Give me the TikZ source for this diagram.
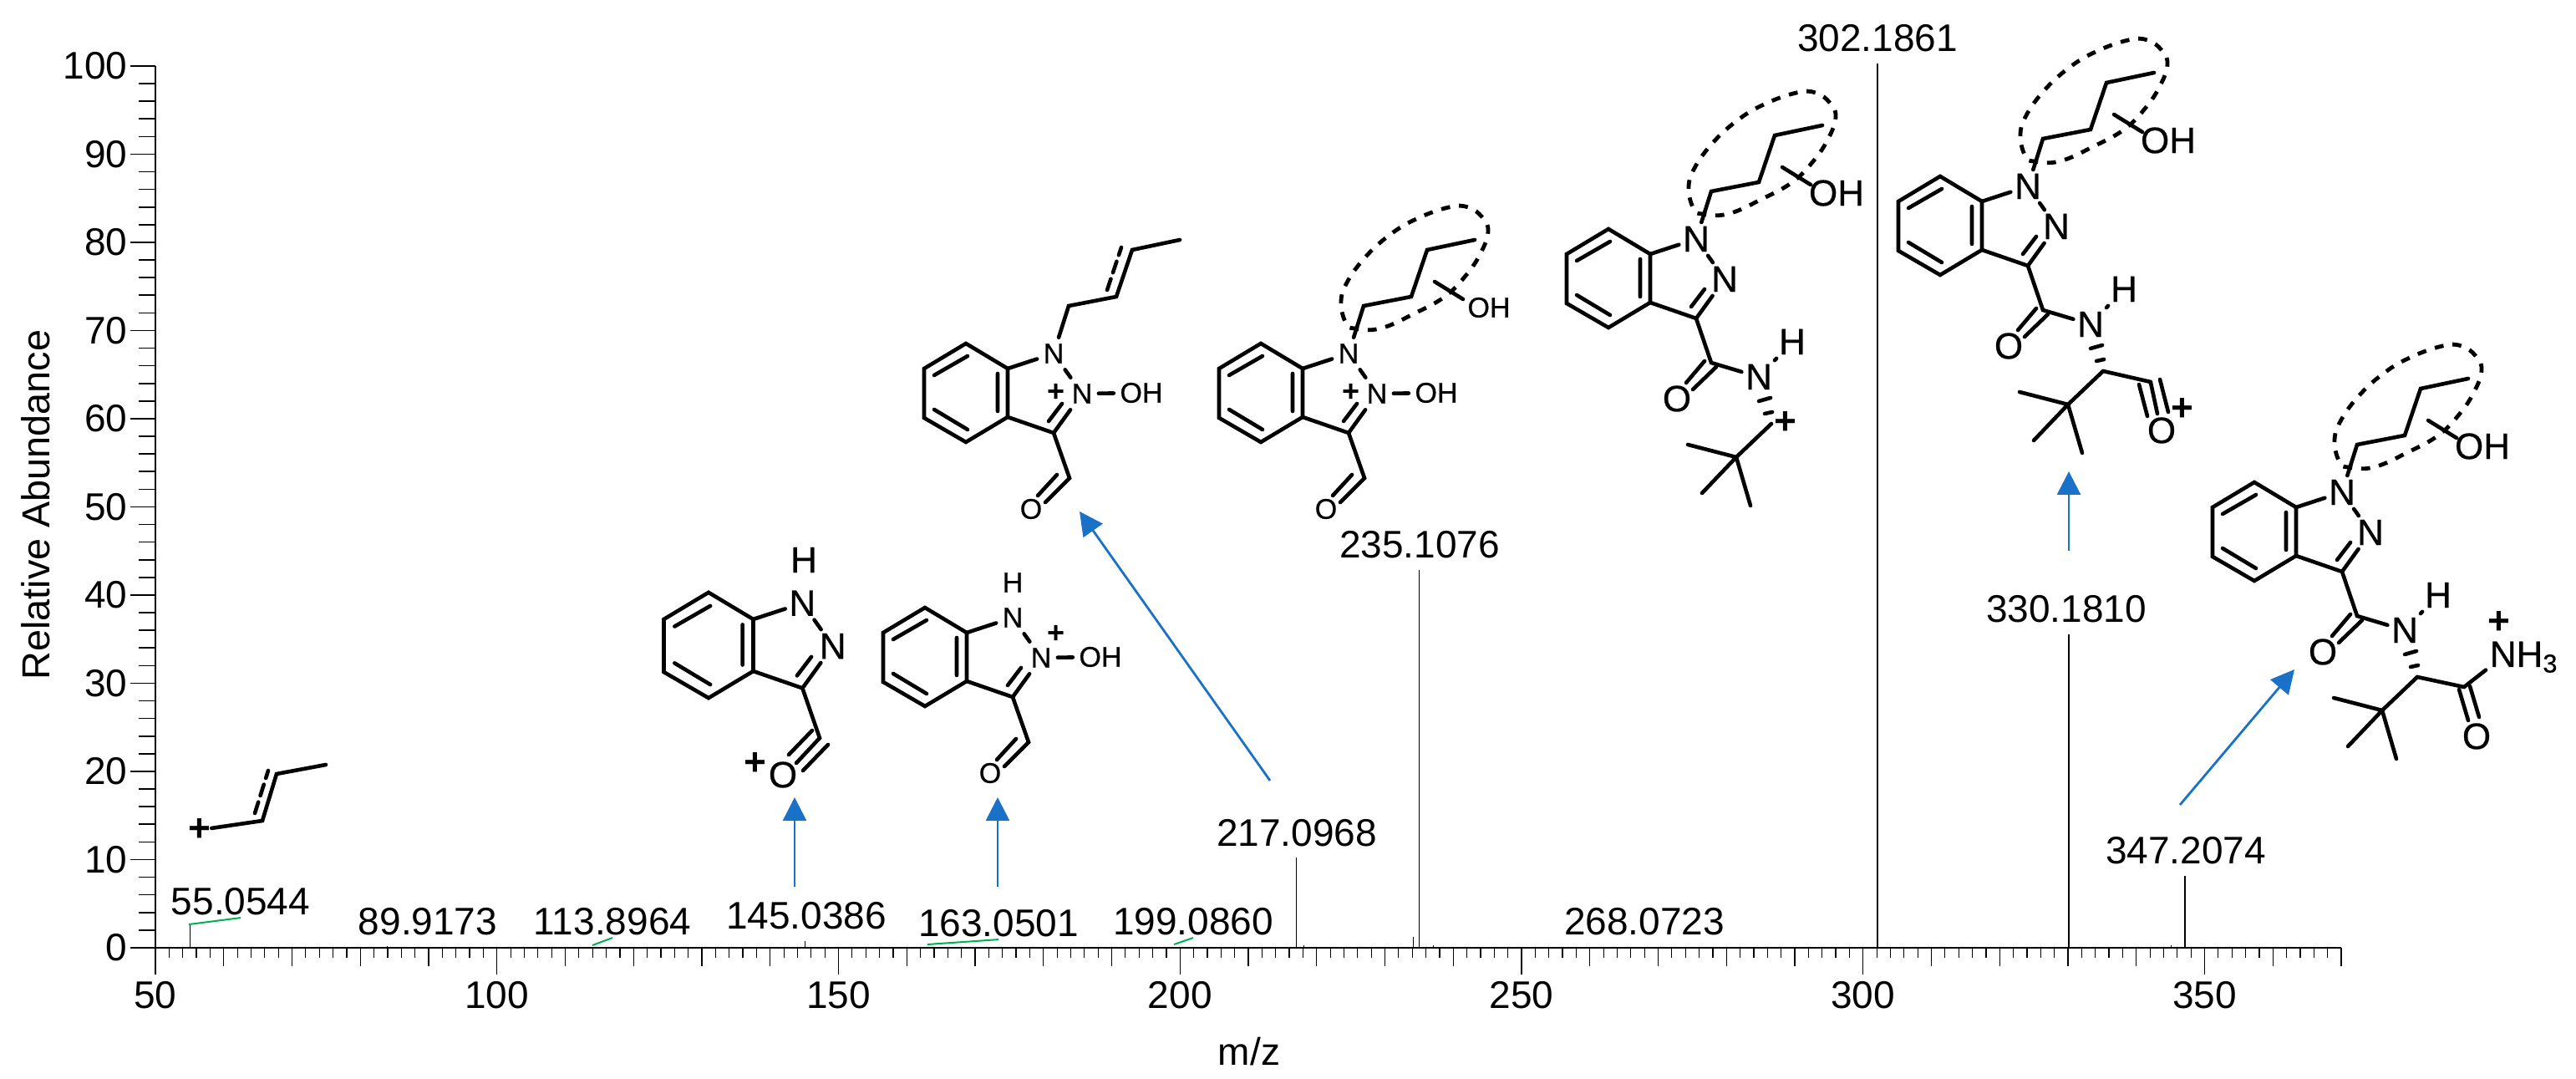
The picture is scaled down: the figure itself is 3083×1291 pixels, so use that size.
\documentclass[tikz,border=0pt]{standalone}
\usepackage{fontspec}
\setmainfont{Liberation Sans}
\newfontfamily\atomfam[FakeBold=0.5]{Liberation Sans}
\usetikzlibrary{arrows.meta}
\definecolor{fragblue}{HTML}{1A72C8}
\definecolor{leadgreen}{HTML}{00B050}
\tikzset{
  axisline/.style={line width=0.4pt},
  ticklabel/.style={font=\fontsize{11.5}{14}\selectfont,inner sep=0.5pt},
  peak/.style={line width=0.3pt},
  leader/.style={leadgreen,line width=0.5pt},
  fragarrow/.style={fragblue,line width=0.7pt,-{Triangle[length=7pt,width=7pt]}},
  bond/.style={line width=1.15pt,line cap=round},
  smallatoms/.style={
    atom/.style={font=\fontsize{8.5}{10}\atomfam,inner sep=1.7pt},
    charge/.style={font=\fontsize{9}{10}\selectfont\bfseries,inner sep=0pt}},
  bigatoms/.style={
    atom/.style={font=\fontsize{11}{13}\atomfam,inner sep=1pt},
    charge/.style={font=\fontsize{11.5}{13}\selectfont\bfseries,inner sep=0pt}},
  indazole/.pic={
    \coordinate (top) at (0,-59);
    \coordinate (UR) at (50,-29);
    \coordinate (LR) at (50,29);
    \coordinate (bottom) at (0,59);
    \coordinate (LL) at (-50,30);
    \coordinate (UL) at (-50,-29);
    \coordinate (C3) at (105,48);
    \node[atom] (N1) at (105,-47) {N};
    \node[atom] (N2) at (139,1) {N};
    \draw[bond] (UL) -- (top) -- (UR) -- (LR) -- (bottom) -- (LL) -- cycle;
    \draw[bond] (-38,-21) -- (2,-44) (38,-23) -- (38,22) (-38,20) -- (2,44);
    \draw[bond] (UR) -- (N1);
    \draw[bond] (N1) -- (N2);
    \draw[bond] (LR) -- (C3) -- (N2);
    \draw[bond] (99,34) -- (115,13);
  },
  nhydroxy/.pic={
    \node[atom] (OH) at (210,0) {OH};
    \draw[bond] (N2) -- (OH);
  },
  formyl/.pic={
    \coordinate (CHO) at (124,102);
    \node[atom] (O) at (78,139) {O};
    \draw[bond] (C3) -- (CHO) -- (95,131);
    \draw[bond] (109,98) -- (86,123);
  },
  acylium/.pic={
    \coordinate (CHO) at (133,111);
    \node[atom] (O) at (89,155) {O};
    \node[charge] (plus) at (56,142) {+};
    \draw[bond] (C3) -- (CHO) -- (105,141);
    \draw[bond] (96,131) -- (124,102) (113,150) -- (143,119);
  },
  chain/.pic={
    \coordinate (c1) at (123,-104);
    \coordinate (c2) at (180,-115);
    \coordinate (c3) at (199,-171);
    \coordinate (c4) at (256,-183);
    \draw[bond] (N1) -- (c1) -- (c2) -- (c3) -- (c4);
  },
  pentol/.pic={
    \node[atom] (OH2) at (273,-102) {OH};
    \draw[bond] (208,-133) -- (242,-112);
    \draw[line width=1.2pt,dash pattern=on 2.7pt off 2.7pt] plot[smooth cycle,tension=0.7] coordinates {
      (102,-83) (96,-107) (102,-130) (123,-160) (153,-188) (186,-208) (225,-222) (248,-222)
      (265,-210) (272,-193) (263,-167) (245,-140) (220,-115) (184,-95) (143,-77) (112,-77)};
  },
  carboxamide/.pic={
    \coordinate (am) at (123,101);
    \coordinate (CH) at (195,174);
    \coordinate (tBu) at (153,214);
    \coordinate (me1) at (95,199);
    \coordinate (me2) at (112,257);
    \coordinate (me3) at (170,272);
    \node[atom] (O) at (82,144) {O};
    \node[atom] (NH) at (180,118) {N};
    \node[atom] (H) at (220,76) {H};
    \draw[bond] (C3) -- (am) -- (NH);
    \draw[bond] (129,106) -- (101,133) (115,99) -- (93,125);
    \draw[bond] (NH) -- (H);
    \draw[bond] (180,147) -- (194,143) (187,162) -- (196,160);
    \draw[bond] (CH) -- (tBu) -- (me1) (tBu) -- (me2) (tBu) -- (me3);
  },
  oxonium/.pic={
    \coordinate (CO) at (252,187);
    \node[atom] (O2) at (265,245) {O};
    \node[charge] (plus) at (290,220) {+};
    \draw[bond] (CH) -- (CO);
    \draw[bond] (238,190) -- (248,228) (252,188) -- (260,225) (263,184) -- (273,223);
  },
  primamide/.pic={
    \coordinate (CO) at (251,186);
    \node[atom] (O2) at (266,245) {O};
    \node[atom,anchor=base west] (NH3) at (277,162) {NH\textsubscript{3}};
    \node[charge] (plus) at (293,109) {+};
    \draw[bond] (CH) -- (CO) -- ([shift={(0,-8)}]NH3.south west);
    \draw[bond] (245,189) -- (256,226) (258,185) -- (269,222);
  }
}
\begin{document}
\begin{tikzpicture}[x=0.25pt,y=-0.25pt]
  \useasboundingbox (0,0) rectangle (3083,1291);
  % axes
  \draw[axisline] (186,79) -- (186,1134);
  \draw[line width=0.5pt] (186,1134) -- (2802,1134);
  \foreach \v in {0,2,...,100}
    \draw[axisline] (186,{1134-10.55*\v}) -- (166,{1134-10.55*\v});
  \foreach \v in {0,10,...,100} {
    \draw[axisline] (186,{1134-10.55*\v}) -- (156,{1134-10.55*\v});
    \node[ticklabel,anchor=east] (ylab\v) at (155,{1134-10.55*\v}) {\v};
  }
  \foreach \m in {50,52,...,370}
    \draw[peak] ({186+8.175*(\m-50)},1134) -- ({186+8.175*(\m-50)},1146);
  \foreach \m in {50,60,...,370}
    \draw[peak] ({186+8.175*(\m-50)},1134) -- ({186+8.175*(\m-50)},1156);
  \foreach \m in {50,100,...,350} {
    \draw[peak] ({186+8.175*(\m-50)},1134) -- ({186+8.175*(\m-50)},1166);
    \node[ticklabel] (xlab\m) at ({186+8.175*(\m-50)},1191) {\m};
  }
  \node[ticklabel] (xtitle) at (1495,1258) {m/z};
  \node[ticklabel,font=\fontsize{11.7}{14}\selectfont,rotate=90] (ytitle) at (43,604) {Relative Abundance};
  % sticks
  \foreach \x/\t/\w in {227/1106/0.25,463/1132/0.25,963/1126/0.25,1551/1026/0.25,1560/1131/0.25,
    1691/1121/0.25,1698/682/0.25,1715/1131/0.25,2247/76/0.4,2476/759/0.5,2598/1131/0.25,2615/1048/0.4}
    \draw[line width=\w pt] (\x,1134) -- (\x,\t);
  % peak labels
  \foreach \nm/\x/\y/\txt in {l55/288/1079/55.0544,l89/512/1103/89.9173,l113/733/1103/113.8964,
    l145/965/1096/145.0386,l163/1195/1105/163.0501,l199/1428/1103/199.0860,l217/1552/997/217.0968,
    l235/1699/652/235.1076,l268/1968/1103/268.0723,l302/2247/46/302.1861,l330/2473/729/330.1810,
    l347/2616/1018/347.2074}
    \node[ticklabel] (\nm) at (\x,\y) {\txt};
  % leader lines
  \foreach \nm/\x/\y in {l55/226/1106,l113/709/1131,l163/1110/1130,l199/1405/1130} {
    \coordinate (\nm p) at (\x,\y);
    \draw[leader] (\nm p) -- (\nm.south);
  }
  % arrows to the fragments
  \foreach \nm/\ax/\ay/\bx/\by in {a145/951/1061/951/954,a163/1194/1061/1194/954,
    a217/1520/934/1292/612,a330/2476/659/2476/564,a347/2609/963/2746/801} {
    \coordinate (\nm s) at (\ax,\ay);
    \coordinate (\nm t) at (\bx,\by);
    \draw[fragarrow] (\nm s) -- (\nm t);
  }
  % fragment at 55
  \begin{scope}[bigatoms]
    \node[charge] (m0plus) at (239,993) {+};
    \coordinate (m0a) at (314,982);
    \coordinate (m0b) at (331,926);
    \coordinate (m0c) at (390,915);
    \draw[bond] (m0plus) -- (m0a) -- (m0b) -- (m0c);
    \draw[bond,dash pattern=on 3.5pt off 2pt] (305,973) -- (321,922);
  \end{scope}
  % fragment at 145
  \begin{scope}[bigatoms]
    \pic[scale=1.07] (m1) at (848,772) {indazole};
    \pic (m1) at (848,772) {acylium};
    \node[atom] (m1H) at (962,670) {H};
  \end{scope}
  % fragment at 163
  \begin{scope}[smallatoms]
    \pic (m2) at (1107,786) {indazole};
    \pic (m2) at (1107,786) {nhydroxy};
    \pic (m2) at (1107,786) {formyl};
    \node[atom] (m2H) at (1212,697) {H};
    \node[charge] (m2plus) at (1264,759) {+};
  \end{scope}
  % fragment at 217
  \begin{scope}[smallatoms]
    \pic (m3) at (1156,470) {indazole};
    \pic (m3) at (1156,470) {nhydroxy};
    \pic (m3) at (1156,470) {formyl};
    \pic (m3) at (1156,470) {chain};
    \draw[bond,dash pattern=on 3.5pt off 2pt] (1325,347) -- (1342,296);
    \node[charge] (m3plus) at (1264,470) {+};
  \end{scope}
  % fragment at 235
  \begin{scope}[smallatoms]
    \pic (m4) at (1509,470) {indazole};
    \pic (m4) at (1509,470) {nhydroxy};
    \pic (m4) at (1509,470) {formyl};
    \pic (m4) at (1509,470) {chain};
    \pic (m4) at (1509,470) {pentol};
    \node[charge] (m4plus) at (1617,470) {+};
  \end{scope}
  % fragment at 302
  \begin{scope}[bigatoms]
    \pic (m5) at (1925,333) {indazole};
    \pic (m5) at (1925,333) {chain};
    \pic (m5) at (1925,333) {pentol};
    \pic (m5) at (1925,333) {carboxamide};
    \node[charge] (m5plus) at (2137,506) {+};
  \end{scope}
  % fragment at 330
  \begin{scope}[bigatoms]
    \pic (m6) at (2322,270) {indazole};
    \pic (m6) at (2322,270) {chain};
    \pic (m6) at (2322,270) {pentol};
    \pic (m6) at (2322,270) {carboxamide};
    \pic (m6) at (2322,270) {oxonium};
  \end{scope}
  % fragment at 347
  \begin{scope}[bigatoms]
    \pic (m7) at (2698,636) {indazole};
    \pic (m7) at (2698,636) {chain};
    \pic (m7) at (2698,636) {pentol};
    \pic (m7) at (2698,636) {carboxamide};
    \pic (m7) at (2698,636) {primamide};
  \end{scope}
\end{tikzpicture}
\end{document}
